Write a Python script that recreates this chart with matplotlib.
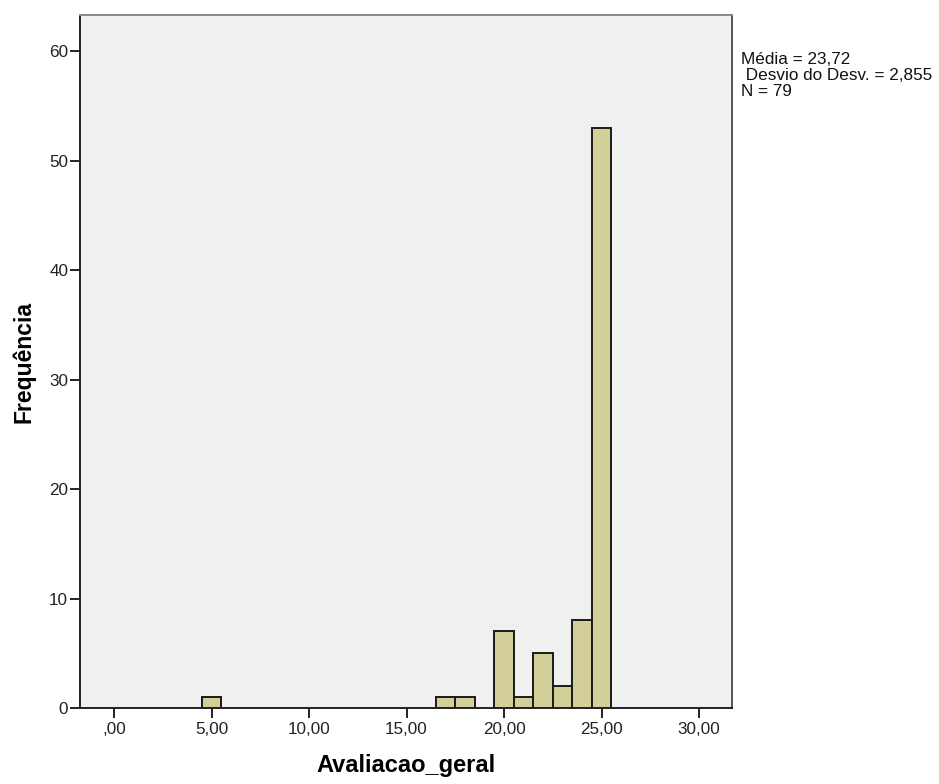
import numpy as np
import matplotlib.pyplot as plt

plt.rcParams['font.family'] = ['Liberation Sans', 'DejaVu Sans']

# histogram bins (centre value) and counts
bin_centers = [5, 17, 18, 20, 21, 22, 23, 24, 25]
counts = [1, 1, 1, 7, 1, 5, 2, 8, 53]
xticks = [0, 5, 10, 15, 20, 25, 30]
xtick_labels = [',00', '5,00', '10,00', '15,00', '20,00', '25,00', '30,00']
yticks = [0, 10, 20, 30, 40, 50, 60]

fig = plt.figure(figsize=(9.39, 7.84), dpi=100)
ax = fig.add_axes([0.0852, 0.0969, 0.6944, 0.884])
ax.set_facecolor('#F0F0F0')

ax.bar(bin_centers, counts, width=1.0, color='#D3CF98',
       edgecolor='#1a1a1a', linewidth=1.4)

ax.set_xlim(-1.744, 31.69)
ax.set_ylim(0, 63.3)
ax.set_xticks(xticks)
ax.set_xticklabels(xtick_labels)
ax.set_yticks(yticks)
ax.tick_params(axis='both', labelsize=12.3, length=7.5, width=1.4,
               colors='#222222')
ax.tick_params(axis='x', pad=2.5)
ax.tick_params(axis='y', pad=1)

for side in ['left', 'bottom']:
    ax.spines[side].set_color('#222222')
    ax.spines[side].set_linewidth(1.4)
ax.spines['top'].set_color('#888888')
ax.spines['right'].set_color('#555555')
ax.spines['top'].set_linewidth(1.4)
ax.spines['right'].set_linewidth(1.4)

ax.set_xlabel('Avaliacao_geral', fontsize=17, fontweight='bold', labelpad=12)
ax.set_ylabel('Frequência', fontsize=16.5, fontweight='bold', labelpad=10)

fig.text(741 / 939, 1 - 52 / 784, 'Média = 23,72\n Desvio do Desv. = 2,855\nN = 79',
         fontsize=12.3, va='top', ha='left', linespacing=1.1, color='#111111')

fig.savefig('out.png', dpi=100)
